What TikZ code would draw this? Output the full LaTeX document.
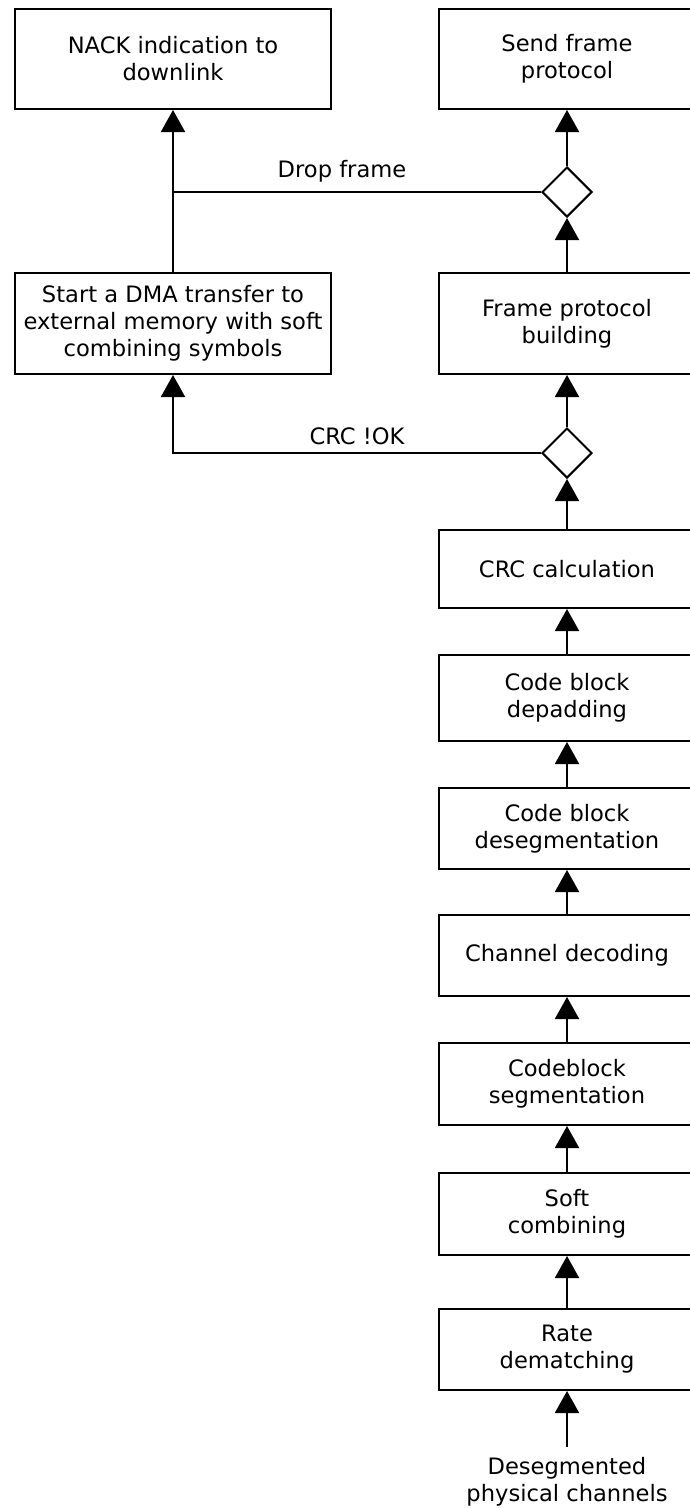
\documentclass[tikz,border=0pt]{standalone}
\usepackage{fontspec}
\setmainfont{DejaVu Sans}
\usetikzlibrary{arrows.meta,shapes.geometric}
\begin{document}
\begin{tikzpicture}[x=1pt,y=-1pt,
  box/.style={draw,line width=2pt,align=center,inner sep=0pt,font=\fontsize{22.6}{27}\selectfont},
  lbox/.style={box,minimum width=316pt},
  rbox/.style={box,minimum width=256pt},
  dec/.style={draw,line width=2pt,diamond,minimum width=50pt,minimum height=50pt,inner sep=0pt},
  conn/.style={line width=2pt},
  arr/.style={conn,-{Triangle[width=24pt,length=22pt]}},
  lab/.style={font=\fontsize{22.6}{27}\selectfont,align=center,inner sep=0pt}]
\useasboundingbox (0,0) rectangle (690,1508);
\fill[white] (0,0) rectangle (690,1508);
\node[lbox,minimum height=100pt] (nack) at (173,59) {NACK indication to\\downlink};
\node[rbox,minimum height=100pt] (send) at (567,59) {Send frame\\protocol};
\node[dec] (d1) at (567,192) {};
\node[lbox,minimum height=101pt] (dma) at (173,323.5) {Start a DMA transfer to\\external memory with soft\\combining symbols};
\node[rbox,minimum height=101pt] (fpb) at (567,323.5) {Frame protocol\\building};
\node[dec] (d2) at (567,453) {};
\node[rbox,minimum height=78pt] (crc) at (567,569) {CRC calculation};
\node[rbox,minimum height=86pt] (dep) at (567,698) {Code block\\depadding};
\node[rbox,minimum height=81pt] (des) at (567,828.5) {Code block\\desegmentation};
\node[rbox,minimum height=81pt] (chd) at (567,955.5) {Channel decoding};
\node[rbox,minimum height=82pt] (cbs) at (567,1084) {Codeblock\\segmentation};
\node[rbox,minimum height=82pt] (soft) at (567,1214) {Soft\\combining};
\node[rbox,minimum height=81pt] (rate) at (567,1349.5) {Rate\\dematching};
\node[lab] (inp) at (567,1482) {Desegmented\\physical channels};
\coordinate (inpt) at (567,1447);
\coordinate (j1) at (173,192);
\draw[arr] (d1.north) -- (send.south);
\draw[arr] (fpb.north) -- (d1.south);
\draw[arr] (dma.north) -- (nack.south);
\draw[conn] (d1.west) -- (j1) node[lab,midway,above=9pt,xshift=-15pt] {Drop frame};
\draw[arr] (d2.north) -- (fpb.south);
\draw[arr] (crc.north) -- (d2.south);
\draw[arr] (d2.west) -| node[lab,pos=0.25,above=7pt] {CRC !OK} (dma.south);
\draw[arr] (dep.north) -- (crc.south);
\draw[arr] (des.north) -- (dep.south);
\draw[arr] (chd.north) -- (des.south);
\draw[arr] (cbs.north) -- (chd.south);
\draw[arr] (soft.north) -- (cbs.south);
\draw[arr] (rate.north) -- (soft.south);
\draw[arr] (inpt) -- (rate.south);
\end{tikzpicture}
\end{document}
